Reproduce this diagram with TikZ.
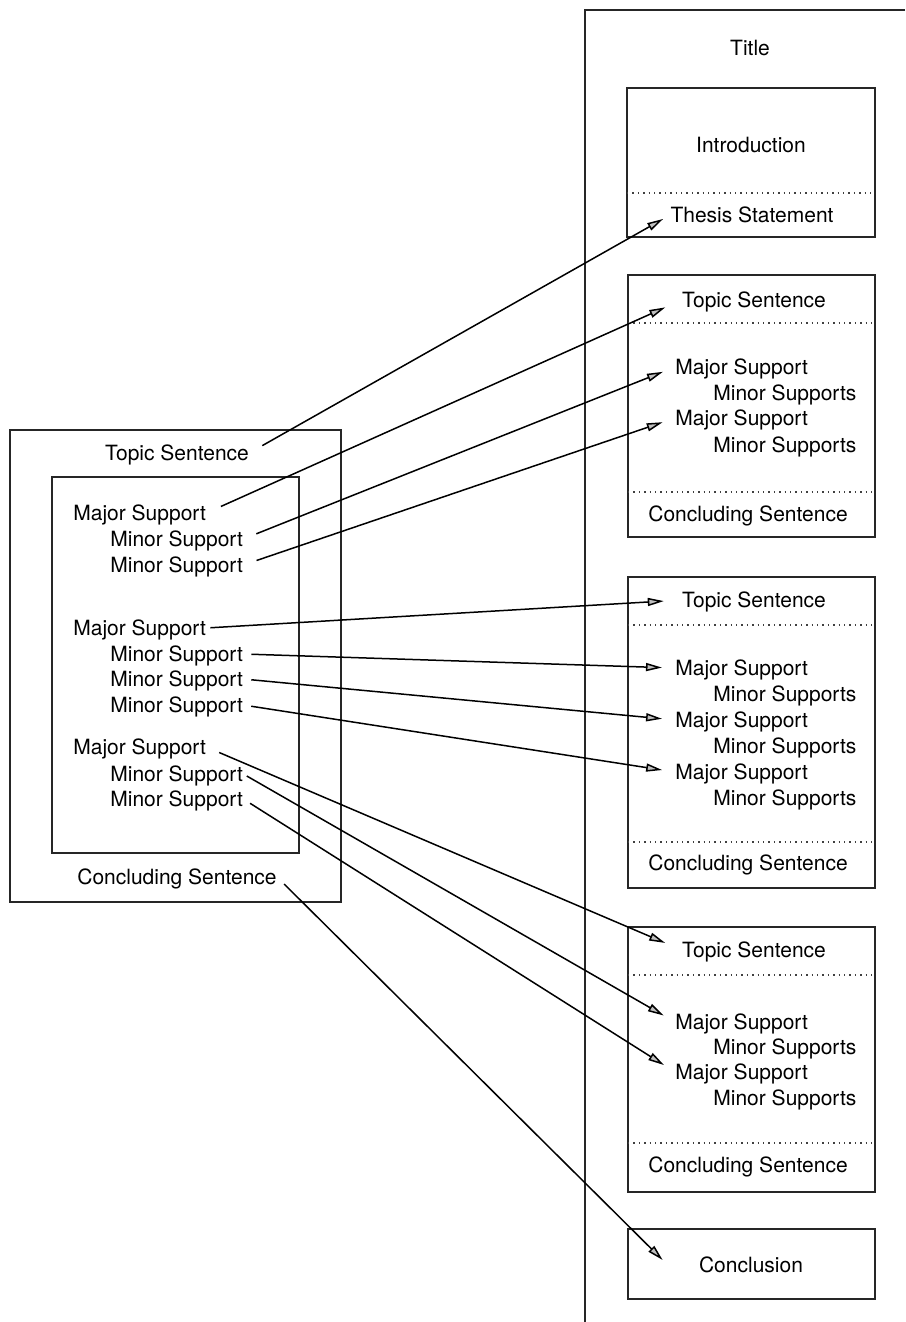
\documentclass[tikz,border=0pt]{standalone}
\usepackage{fontspec}
\setmainfont{TeX Gyre Heros}
\usetikzlibrary{arrows.meta}

\begin{document}
\begin{tikzpicture}[
  x=0.5pt, y=-0.5pt,
  essayframe/.style = {line width=0.7pt, black!85},
  essaybox/.style = {draw, line width=0.7pt, black!85},
  essaydiv/.style = {dotted, line width=0.7pt, black!75},
  essaytxt/.style = {inner sep=0pt, font=\fontsize{10.5}{12}\selectfont,
                     text height=9.8pt, text depth=2.3pt},
  essaylft/.style = {essaytxt, anchor=west},
  essayarr/.style = {line width=0.75pt, shorten <=4pt,
                     -{Triangle[length=8pt, width=4pt, fill=gray!50]}}
]
  \useasboundingbox (0,0) rectangle (905,1322);
  % page of the essay
  \draw[essayframe] (905,10) -- (585,10) -- (585,1322);
  \node[essaytxt] (title) at (750,48) {Title};
  % introduction
  \draw[essaybox] (627,88) rectangle (875,237);
  \draw[essaydiv] (627,193) -- (875,193);
  \node[essaytxt] (intro) at (751,145) {Introduction};
  \node[essaytxt] (thesis) at (752,215) {Thesis Statement};
  % body paragraphs
  \foreach \t/\a/\b/\u in {275/323/492/537, 577/625/842/888, 927/975/1143/1192} {
    \draw[essaybox] (628,\t) rectangle (875,\u);
    \draw[essaydiv] (628,\a) -- (875,\a);
    \draw[essaydiv] (628,\b) -- (875,\b);
  }
  \node[essaytxt] (topA) at (754,300) {Topic Sentence};
  \node[essaylft] (majA1) at (675,367) {Major Support};
  \node[essaylft] (minA1) at (713,393) {Minor Supports};
  \node[essaylft] (majA2) at (675,418) {Major Support};
  \node[essaylft] (minA2) at (713,445) {Minor Supports};
  \node[essaytxt] (conA) at (748,514) {Concluding Sentence};

  \node[essaytxt] (topB) at (754,600) {Topic Sentence};
  \node[essaylft] (majB1) at (675,668) {Major Support};
  \node[essaylft] (minB1) at (713,694) {Minor Supports};
  \node[essaylft] (majB2) at (675,720) {Major Support};
  \node[essaylft] (minB2) at (713,746) {Minor Supports};
  \node[essaylft] (majB3) at (675,772) {Major Support};
  \node[essaylft] (minB3) at (713,798) {Minor Supports};
  \node[essaytxt] (conB) at (748,863) {Concluding Sentence};

  \node[essaytxt] (topC) at (754,950) {Topic Sentence};
  \node[essaylft] (majC1) at (675,1022) {Major Support};
  \node[essaylft] (minC1) at (713,1047) {Minor Supports};
  \node[essaylft] (majC2) at (675,1072) {Major Support};
  \node[essaylft] (minC2) at (713,1098) {Minor Supports};
  \node[essaytxt] (conC) at (748,1165) {Concluding Sentence};
  % conclusion
  \draw[essaybox] (628,1229) rectangle (875,1299);
  \node[essaytxt] (concl) at (751,1265) {Conclusion};

  % the paragraph
  \draw[essayframe] (10,430) rectangle (341,902);
  \draw[essaybox] (52,477) rectangle (299,853);
  \node[essaytxt] (pTopic) at (177,453) {Topic Sentence};
  \node[essaylft] (pMaj1) at (73,513) {Major Support};
  \node[essaylft] (pMin1a) at (110,539) {Minor Support};
  \node[essaylft] (pMin1b) at (110,565) {Minor Support};
  \node[essaylft] (pMaj2) at (73,628) {Major Support};
  \node[essaylft] (pMin2a) at (110,654) {Minor Support};
  \node[essaylft] (pMin2b) at (110,679) {Minor Support};
  \node[essaylft] (pMin2c) at (110,705) {Minor Support};
  \node[essaylft] (pMaj3) at (73,747) {Major Support};
  \node[essaylft] (pMin3a) at (110,774) {Minor Support};
  \node[essaylft] (pMin3b) at (110,799) {Minor Support};
  \node[essaytxt] (pConc) at (177,877) {Concluding Sentence};

  % arrows
  \draw[essayarr, shorten <=7.5pt, shorten >=4pt] (pTopic.east) -- (thesis.west);
  \draw[essayarr, shorten <=8pt, shorten >=9pt] (pMaj1.east) -- (topA.west);
  \draw[essayarr, shorten <=7pt, shorten >=6.5pt] (pMin1a.east) -- (majA1.west);
  \draw[essayarr, shorten <=7pt, shorten >=6.5pt] (pMin1b.east) -- (majA2.west);
  \draw[essayarr, shorten <=2pt, shorten >=9pt] (pMaj2.east) -- (topB.west);
  \draw[essayarr, shorten >=6.5pt] (pMin2a.east) -- (majB1.west);
  \draw[essayarr, shorten >=6.5pt] (pMin2b.east) -- (majB2.west);
  \draw[essayarr, shorten >=6.5pt] (pMin2c.east) -- (majB3.west);
  \draw[essayarr, shorten <=7pt, shorten >=9pt] (pMaj3.east) -- (topC.west);
  \draw[essayarr, shorten <=2pt, shorten >=6.5pt] (pMin3a.east) -- (majC1.west);
  \draw[essayarr, shorten >=6.5pt] (pMin3b.east) -- (majC2.west);
  \draw[essayarr, shorten <=5pt] (pConc.east) -- ([xshift=-18pt, yshift=2.5pt]concl.west);
\end{tikzpicture}
\end{document}
